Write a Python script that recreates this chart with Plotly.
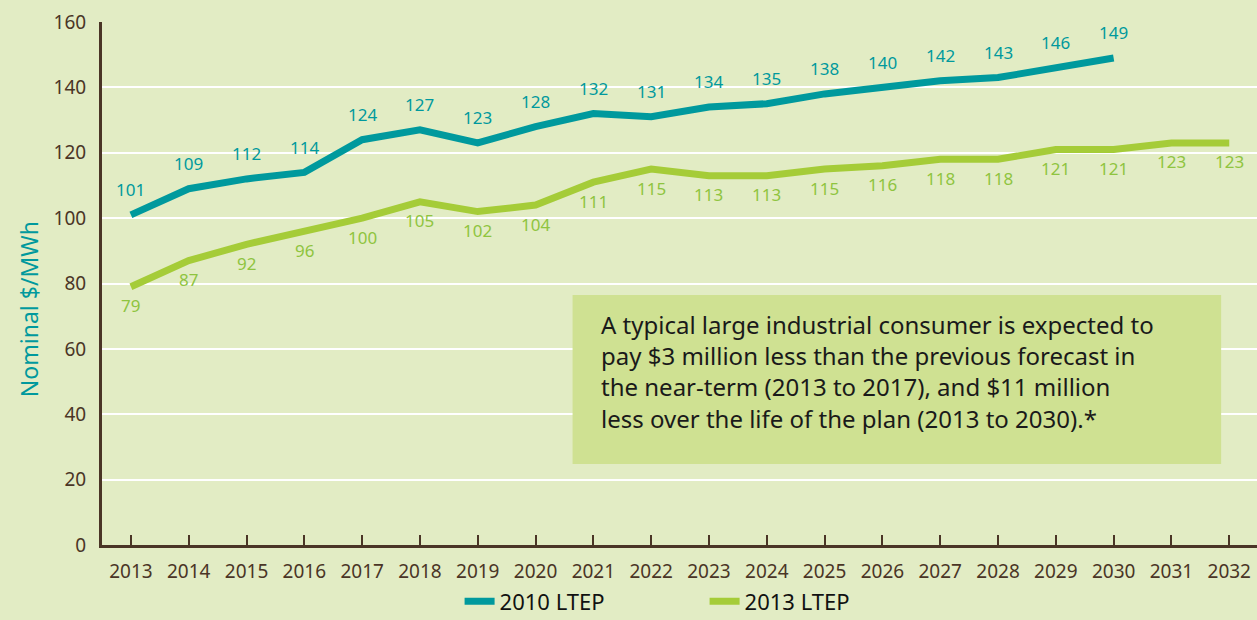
import plotly.graph_objects as go

years_2010 = list(range(2013, 2031))
ltep_2010 = [101, 109, 112, 114, 124, 127, 123, 128, 132, 131, 134, 135, 138, 140, 142, 143, 146, 149]
years_2013 = list(range(2013, 2033))
ltep_2013 = [79, 87, 92, 96, 100, 105, 102, 104, 111, 115, 113, 113, 115, 116, 118, 118, 121, 121, 123, 123]
y_ticks = [0, 20, 40, 60, 80, 100, 120, 140, 160]
y_title = "Nominal $/MWh"
note_lines = [
    "A typical large industrial consumer is expected to",
    "pay $3 million less than the previous forecast in",
    "the near-term (2013 to 2017), and $11 million",
    "less over the life of the plan (2013 to 2030).*",
]

TEAL = "#00999d"
GREEN = "#a5cc38"
GREEN_TXT = "#8fc43f"
BROWN = "#4a3526"
BG = "#e2ecc4"
FONT = "Noto Sans"

fig = go.Figure()
fig.add_trace(go.Scatter(x=years_2010, y=ltep_2010, mode="lines", name="2010 LTEP",
                         line=dict(color=TEAL, width=7)))
fig.add_trace(go.Scatter(x=years_2013, y=ltep_2013, mode="lines", name="2013 LTEP",
                         line=dict(color=GREEN, width=7)))

for x, y in zip(years_2010, ltep_2010):
    fig.add_annotation(x=x, y=y, text=str(y), showarrow=False, yshift=25,
                       font=dict(family=FONT, size=17, color=TEAL))
for x, y in zip(years_2013, ltep_2013):
    fig.add_annotation(x=x, y=y, text=str(y), showarrow=False, yshift=-19,
                       font=dict(family=FONT, size=17, color=GREEN_TXT))

fig.add_shape(type="rect", xref="x", yref="y", x0=2020.64, x1=2031.86, y0=24.8, y1=76.5,
              fillcolor="#cfe192", line=dict(width=0), layer="between")
fig.add_annotation(x=2021.1, y=73.0, xref="x", yref="y", xanchor="left", yanchor="top",
                   align="left", showarrow=False, text="<br>".join(note_lines),
                   font=dict(family=FONT, size=24, color="#1a1a1a"))

# y-axis title placed as rotated text
fig.add_annotation(x=-0.0632, y=0.451, xref="paper", yref="paper", text=y_title,
                   textangle=-90, showarrow=False, xanchor="center", yanchor="middle",
                   font=dict(family=FONT, size=23, color=TEAL))

fig.update_layout(
    width=1257, height=620,
    margin=dict(l=102, r=0, t=22, b=75, autoexpand=False),
    paper_bgcolor=BG, plot_bgcolor=BG,
    font=dict(family=FONT, color=BROWN),
    showlegend=True,
    legend=dict(orientation="h", x=0.3096, xanchor="left", y=-0.108, yanchor="middle",
                font=dict(family=FONT, size=22, color="#111111"),
                bgcolor="rgba(0,0,0,0)", entrywidth=200, entrywidthmode="pixels"),
    xaxis=dict(range=[2012.5, 2032.48], tickmode="array", tickvals=years_2013,
               ticktext=[str(y) for y in years_2013], showgrid=False, zeroline=False,
               showline=True, linecolor=BROWN, linewidth=3,
               ticks="inside", ticklen=10, tickwidth=2, tickcolor=BROWN,
               ticklabelstandoff=7,
               tickfont=dict(family=FONT, size=19, color=BROWN)),
    yaxis=dict(range=[0, 160], tickvals=y_ticks, showgrid=True, gridcolor="white", gridwidth=2,
               zeroline=False, showline=True, linecolor=BROWN, linewidth=3, ticks="",
               ticklabelstandoff=9,
               tickfont=dict(family=FONT, size=19, color=BROWN)),
)

fig.write_html("out.html", config={"displayModeBar": False},
               post_script="document.body.style.margin='0';")
